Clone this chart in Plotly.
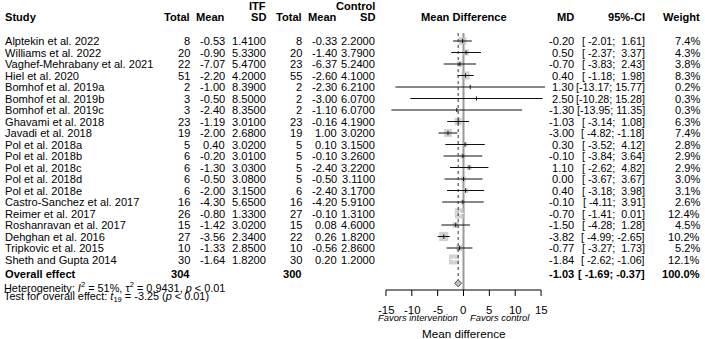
import plotly.graph_objects as go
import math

# ---------------- data ----------------
studies = ["Alptekin et al. 2022", "Williams et al. 2022", "Vaghef-Mehrabany et al. 2021",
           "Hiel et al. 2020", "Bomhof et al. 2019a", "Bomhof et al. 2019b", "Bomhof et al. 2019c",
           "Ghavami et al. 2018", "Javadi et al. 2018", "Pol et al. 2018a", "Pol et al. 2018b",
           "Pol et al. 2018c", "Pol et al. 2018d", "Pol et al. 2018e", "Castro-Sanchez et al. 2017",
           "Reimer et al. 2017", "Roshanravan et al. 2017", "Dehghan et al. 2016",
           "Tripkovic et al. 2015", "Sheth and Gupta 2014"]
itf_total = [8, 20, 22, 51, 2, 3, 3, 23, 19, 5, 6, 6, 6, 6, 16, 26, 15, 27, 10, 30]
itf_mean = [-0.53, -0.90, -7.07, -2.20, -1.00, -0.50, -2.40, -1.19, -2.00, 0.40, -0.20, -1.30,
            -0.50, -2.00, -4.30, -0.80, -1.42, -3.56, -1.33, -1.64]
itf_sd = [1.41, 5.33, 5.47, 4.20, 8.39, 8.50, 8.35, 3.01, 2.68, 3.02, 3.01, 3.03, 3.08, 3.15,
          5.65, 1.33, 3.02, 2.34, 2.85, 1.82]
ctl_total = [8, 20, 23, 55, 2, 2, 2, 23, 19, 5, 5, 5, 5, 6, 16, 27, 15, 22, 10, 30]
ctl_mean = [-0.33, -1.40, -6.37, -2.60, -2.30, -3.00, -1.10, -0.16, 1.00, 0.10, -0.10, -2.40,
            -0.50, -2.40, -4.20, -0.10, 0.08, 0.26, -0.56, 0.20]
ctl_sd = [2.20, 3.79, 5.24, 4.10, 6.21, 6.07, 6.07, 4.19, 3.02, 3.15, 3.26, 3.22, 3.11, 3.17,
          5.91, 1.31, 4.60, 1.82, 2.86, 1.20]
md = [-0.20, 0.50, -0.70, 0.40, 1.30, 2.50, -1.30, -1.03, -3.00, 0.30, -0.10, 1.10, 0.00, 0.40,
      -0.10, -0.70, -1.50, -3.82, -0.77, -1.84]
ci_low = [-2.01, -2.37, -3.83, -1.18, -13.17, -10.28, -13.95, -3.14, -4.82, -3.52, -3.84, -2.62,
          -3.67, -3.18, -4.11, -1.41, -4.28, -4.99, -3.27, -2.62]
ci_high = [1.61, 3.37, 2.43, 1.98, 15.77, 15.28, 11.35, 1.08, -1.18, 4.12, 3.64, 4.82, 3.67,
           3.98, 3.91, 0.01, 1.28, -2.65, 1.73, -1.06]
weights = [7.4, 4.3, 3.8, 8.3, 0.2, 0.3, 0.3, 6.3, 7.4, 2.8, 2.9, 2.9, 3.0, 3.1, 2.6, 12.4, 4.5,
           10.2, 5.2, 12.1]

overall_itf_total = 304
overall_ctl_total = 300
overall_md = -1.03
overall_low = -1.69
overall_high = -0.37
overall_weight = 100.0
heterogeneity = "Heterogeneity: <i>I</i><sup>2</sup> = 51%, τ<sup>2</sup> = 0.9431, <i>p</i> < 0.01"
overall_test = "Test for overall effect: <i>t</i><sub>19</sub> = -3.25 (<i>p</i> < 0.01)"
tick_vals = [-15, -10, -5, 0, 5, 10, 15]
label_left = "Favors intervention"
label_right = "Favors control"
x_title = "Mean difference"

# ---------------- layout helpers ----------------
W, H = 705, 339
ROW0, ROWH = 41.0, 11.5          # pixel position of first row, row spacing
def prow(px):
    return (px - ROW0) / ROWH

PX_PER_UNIT = 5.17
X0_PX = 463.5
XR = (-17, 17)
dom = [(X0_PX + XR[0] * PX_PER_UNIT) / W, (X0_PX + XR[1] * PX_PER_UNIT) / W]
AXIS_PX = 290.0

FONT = "Liberation Sans, Arial, Helvetica, sans-serif"
FS = 11.1
NB = "\u00a0"

rows = list(range(len(studies)))
overall_row = prow(274.3)
diamond_row = prow(283.3)

fig = go.Figure()

# squares
sizes = [2.85 * math.sqrt(w) for w in weights]
fig.add_trace(go.Scatter(x=md, y=rows, mode="markers",
                         marker=dict(symbol="square", size=sizes, color="#BEBEBE",
                                     line=dict(width=0)),
                         hoverinfo="skip", showlegend=False, cliponaxis=False))

# CI lines (white when hidden inside the square)
for i in rows:
    half_sq = sizes[i] / 2 / PX_PER_UNIT
    inside = (md[i] - ci_low[i] < half_sq) and (ci_high[i] - md[i] < half_sq)
    col = "white" if inside else "#111111"
    fig.add_trace(go.Scatter(x=[ci_low[i], ci_high[i]], y=[i, i], mode="lines",
                             line=dict(color=col, width=1), hoverinfo="skip",
                             showlegend=False))
    fig.add_trace(go.Scatter(x=[md[i]], y=[i], mode="markers",
                             marker=dict(symbol="line-ns", size=3, line=dict(color=col, width=1)),
                             hoverinfo="skip", showlegend=False, cliponaxis=False))

# reference lines
fig.add_shape(type="line", xref="x", yref="y", x0=0, x1=0, y0=prow(33), y1=prow(AXIS_PX),
              line=dict(color="#9a9a9a", width=2), layer="below")
dh = 3.6 / ROWH
fig.add_shape(type="line", xref="x", yref="y", x0=overall_md, x1=overall_md,
              y0=prow(33), y1=diamond_row - dh, line=dict(color="#333333", width=1, dash="dot"))

# diamond
fig.add_trace(go.Scatter(x=[overall_low, overall_md, overall_high, overall_md, overall_low],
                         y=[diamond_row, diamond_row - dh, diamond_row, diamond_row + dh, diamond_row],
                         mode="lines", fill="toself", fillcolor="#BEBEBE",
                         line=dict(color="#555555", width=1), hoverinfo="skip", showlegend=False))

# axis: line from -15 to 15, tick marks and tick labels on the x scale
fig.add_shape(type="line", xref="x", yref="y", x0=tick_vals[0], x1=tick_vals[-1],
              y0=prow(AXIS_PX), y1=prow(AXIS_PX), line=dict(color="black", width=1))
for t in tick_vals:
    fig.add_shape(type="line", xref="x", yref="y", x0=t, x1=t,
                  y0=prow(AXIS_PX), y1=prow(AXIS_PX + 6), line=dict(color="black", width=1))

# ---------------- text table ----------------
ann = []
def txt(x_px, row, s, anchor="right", size=FS, bold=False, italic=False):
    if bold:
        s = "<b>" + s + "</b>"
    if italic:
        s = "<i>" + s + "</i>"
    ann.append(dict(x=x_px / W, xref="paper", y=row, yref="y", text=s, showarrow=False,
                    xanchor=anchor, yanchor="middle", font=dict(family=FONT, size=size, color="black")))

for t in tick_vals:
    ann.append(dict(x=t, xref="x", y=prow(310), yref="y", text=str(t), showarrow=False,
                    xanchor="center", yanchor="middle",
                    font=dict(family=FONT, size=11.4, color="black")))

col_total1, col_mean1, col_sd1 = 191.5, 226.5, 267.5
col_total2, col_mean2, col_sd2 = 303.5, 338.5, 377
col_md, col_ci, col_w = 576, 647, 702

hdr = prow(17)
top = prow(6)
txt(3, hdr, "Study", "left", bold=True)
txt(col_total1, hdr, "Total", bold=True)
txt(col_mean1, hdr, "Mean", bold=True)
txt(col_sd1, hdr, "SD", bold=True)
txt(col_sd1, top, "ITF", bold=True)
txt(col_total2, hdr, "Total", bold=True)
txt(col_mean2, hdr, "Mean", bold=True)
txt(col_sd2, hdr, "SD", bold=True)
txt(col_sd2, top, "Control", bold=True)
txt(X0_PX, hdr, "Mean Difference", "center", bold=True)
txt(col_md, hdr, "MD", bold=True)
txt(col_ci, hdr, "95%-CI", bold=True)
txt(col_w, hdr, "Weight", bold=True)

lw = max(len(f"{v:.2f}") for v in ci_low + [overall_low])
hw = max(len(f"{v:.2f}") for v in ci_high + [overall_high])
def ci_str(lo, hi):
    a = f"{lo:.2f}".rjust(lw)
    b = f"{hi:.2f}".rjust(hw)
    return ("[" + a + "; " + b + "]").replace(" ", NB)

for i in rows:
    txt(3, i, studies[i], "left")
    txt(col_total1, i, str(itf_total[i]))
    txt(col_mean1, i, f"{itf_mean[i]:.2f}")
    txt(col_sd1, i, f"{itf_sd[i]:.4f}")
    txt(col_total2, i, str(ctl_total[i]))
    txt(col_mean2, i, f"{ctl_mean[i]:.2f}")
    txt(col_sd2, i, f"{ctl_sd[i]:.4f}")
    txt(col_md, i, f"{md[i]:.2f}")
    txt(col_ci, i, ci_str(ci_low[i], ci_high[i]), size=10.7)
    txt(col_w, i, f"{weights[i]:.1f}%")

txt(3, overall_row, "Overall effect", "left", bold=True)
txt(col_total1, overall_row, str(overall_itf_total), bold=True)
txt(col_total2, overall_row, str(overall_ctl_total), bold=True)
txt(col_md, overall_row, f"{overall_md:.2f}", bold=True)
txt(col_ci, overall_row, ci_str(overall_low, overall_high), bold=True, size=10.9)
txt(col_w, overall_row, f"{overall_weight:.1f}%", bold=True)
txt(2, prow(286.7), heterogeneity, "left", size=10.9)
txt(2, prow(296.5), overall_test, "left", size=10.9)

txt(459.5, prow(317.7), label_left, "right", size=9.4, italic=True)
txt(467.5, prow(317.7), label_right, "left", size=9.4, italic=True)
txt(X0_PX, prow(333), x_title, "center", size=11.7)

fig.update_layout(
    width=W, height=H, autosize=False,
    margin=dict(l=0, r=0, t=0, b=0),
    paper_bgcolor="white", plot_bgcolor="rgba(0,0,0,0)",
    annotations=ann,
    showlegend=False,
    xaxis=dict(domain=dom, range=list(XR), visible=False, showgrid=False, zeroline=False),
    yaxis=dict(domain=[0, 1], range=[prow(H), prow(0)], visible=False,
               showgrid=False, zeroline=False),
)

fig.write_html("out.html", config={"displayModeBar": False},
               post_script="document.body.style.margin='0';document.body.style.overflow='hidden';")
